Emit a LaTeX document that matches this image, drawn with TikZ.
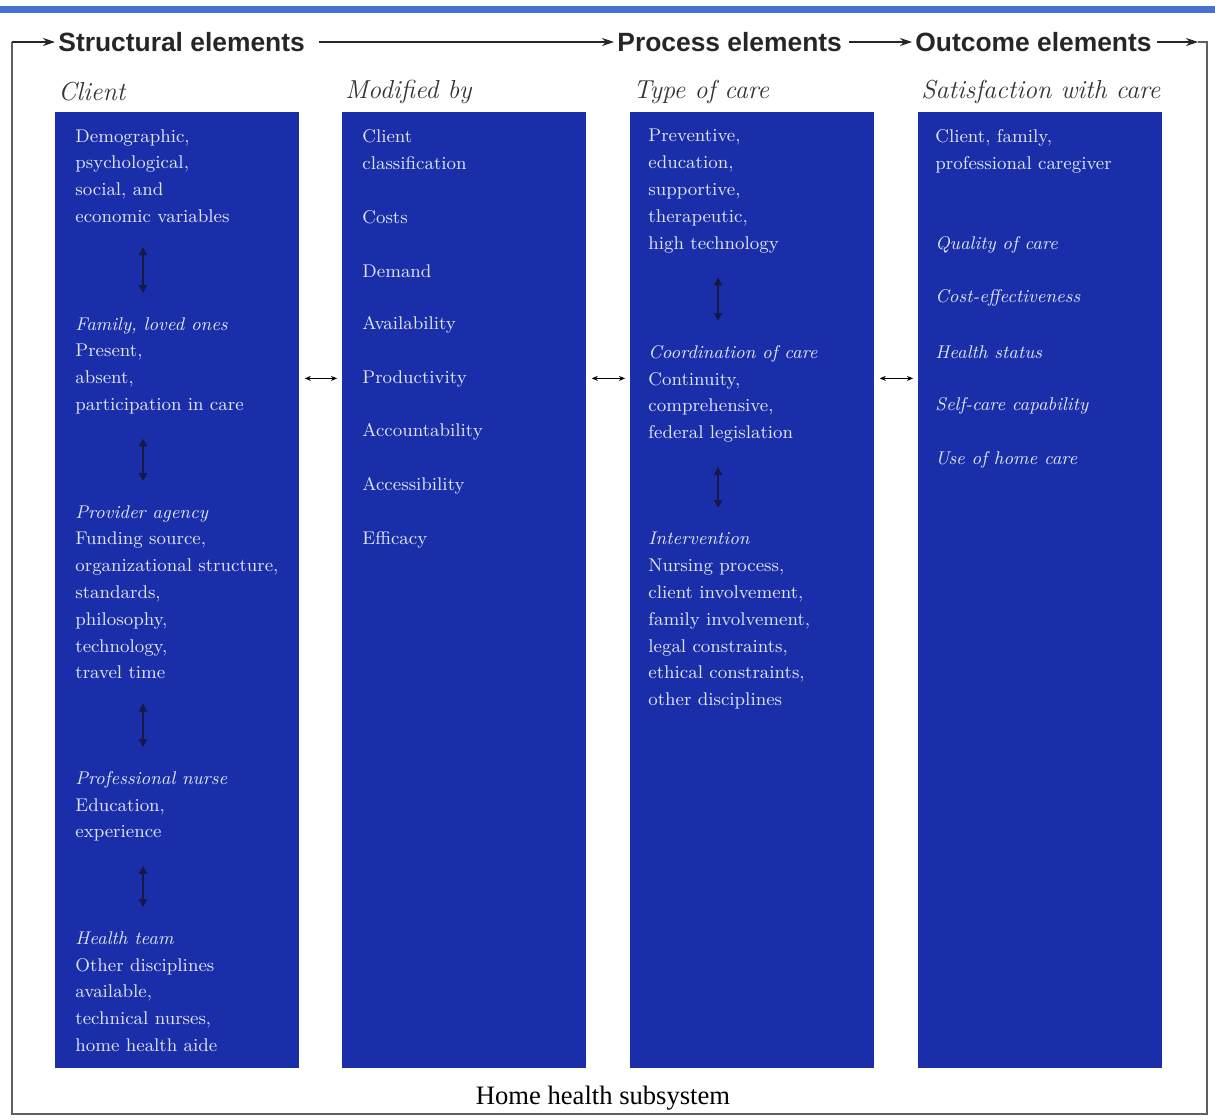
\documentclass[tikz,border=0pt]{standalone}
\usepackage{fontspec}
\newfontfamily\headfont{Liberation Sans}
\newfontfamily\basefont{Liberation Serif}
\usetikzlibrary{positioning, arrows.meta}

\definecolor{boxblue}{RGB}{26,46,170}
\definecolor{boxtext}{RGB}{224,227,240}
\definecolor{linkdark}{RGB}{22,24,70}
\definecolor{rulecol}{RGB}{74,112,205}
\definecolor{framegray}{RGB}{95,95,95}

\tikzset{
  colbox/.style={fill=boxblue, draw=none, anchor=north west, inner sep=0pt, minimum width=122pt, minimum height=478pt},
  coltitle/.style={anchor=west, inner sep=0pt, text=black!80, font=\fontsize{13}{15}\selectfont\itshape},
  headtxt/.style={anchor=west, inner sep=0pt, text=black!85, font=\headfont\bfseries\fontsize{13.2}{15}\selectfont},
  blocktxt/.style={anchor=north west, inner sep=0pt, align=left, text=boxtext, font=\fontsize{9.2}{13.4}\selectfont},
  itemtxt/.style={anchor=west, inner sep=0pt, text=boxtext, font=\fontsize{9.2}{13.4}\selectfont},
  flow/.style={-{Stealth[length=6pt,width=4pt]}, line width=0.6pt, black!85, shorten >=1.5pt},
  hlink/.style={{Stealth[length=3pt,width=2.5pt]}-{Stealth[length=3pt,width=2.5pt]}, line width=0.5pt, black, shorten <=2.5pt, shorten >=2.5pt},
  vlink/.style={{Triangle[length=4pt,width=4pt]}-{Triangle[length=4pt,width=4pt]}, line width=1pt, linkdark, shorten <=12pt, shorten >=12pt},
}

\begin{document}
\begin{tikzpicture}[x=0.5pt, y=-0.5pt]
    \useasboundingbox (0,0) rectangle (1215,1119);

    % Draw top rule
    \draw[rulecol, line width=3.5pt] (0,9) -- (1215,9);

    % Draw columns and their titles
    \foreach \name/\xx/\title in {client/55/Client, modby/342/Modified by, care/630/Type of care, satis/918/Satisfaction with care} {
      \node[colbox] (\name) at (\xx,112) {};
      \node[coltitle] (\name-t) at (\xx+3,92) {\title};
      \coordinate (\name-ax) at (\xx+88,112);
    }

    % Client column
    \node[blocktxt] (demo) at (75,129) {Demographic,\\psychological,\\social, and\\economic variables};
    \node[blocktxt] (family) at (75,317) {{\itshape Family, loved ones}\\Present,\\absent,\\participation in care};
    \node[blocktxt] (agency) at (75,505) {{\itshape Provider agency}\\Funding source,\\organizational structure,\\standards,\\philosophy,\\technology,\\travel time};
    \node[blocktxt] (nurse) at (75,771) {{\itshape Professional nurse}\\Education,\\experience};
    \node[blocktxt] (team) at (75,931) {{\itshape Health team}\\Other disciplines\\available,\\technical nurses,\\home health aide};

    \draw[vlink] (demo.south -| client-ax) -- (family.north -| client-ax);
    \draw[vlink] (family.south -| client-ax) -- (agency.north -| client-ax);
    \draw[vlink] (agency.south -| client-ax) -- (nurse.north -| client-ax);
    \draw[vlink] (nurse.south -| client-ax) -- (team.north -| client-ax);

    % Modified by column
    \node[blocktxt] (mclass) at (362,129) {Client\\classification};
    \foreach \t/\yy in {Costs/217, Demand/271, Availability/325, Productivity/379, Accountability/432, Accessibility/486, Efficacy/540} {
      \node[itemtxt] (mod\yy) at (362,\yy) {\t};
    }

    % Type of care column
    \node[blocktxt] (types) at (648,129) {Preventive,\\education,\\supportive,\\therapeutic,\\high technology};
    \node[blocktxt] (coord) at (648,345) {{\itshape Coordination of care}\\Continuity,\\comprehensive,\\federal legislation};
    \node[blocktxt] (interv) at (648,532) {{\itshape Intervention}\\Nursing process,\\client involvement,\\family involvement,\\legal constraints,\\ethical constraints,\\other disciplines};

    \draw[vlink] (types.south -| care-ax) -- (coord.north -| care-ax);
    \draw[vlink] (coord.south -| care-ax) -- (interv.north -| care-ax);

    % Satisfaction column
    \node[blocktxt] (sclient) at (935,129) {Client, family,\\professional caregiver};
    \foreach \t/\yy in {Quality of care/245, Cost-effectiveness/298, Health status/352, Self-care capability/406, Use of home care/460} {
      \node[itemtxt, font=\fontsize{9.2}{13.4}\selectfont\itshape] (sat\yy) at (935,\yy) {\t};
    }

    % Links between columns
    \draw[hlink] ([yshift=106pt]client.east) -- ([yshift=106pt]modby.west);
    \draw[hlink] ([yshift=106pt]modby.east) -- ([yshift=106pt]care.west);
    \draw[hlink] ([yshift=106pt]care.east) -- ([yshift=106pt]satis.west);

    % Headings and frame
    \node[headtxt] (struct) at (58,42) {Structural elements};
    \node[headtxt] (proc) at (617,42) {Process elements};
    \node[headtxt] (outc) at (915,42) {Outcome elements};

    \coordinate (fr-tl) at (12,42);
    \coordinate (fr-bl) at (12,1114);
    \coordinate (fr-br) at (1207,1114);
    \coordinate (fr-tr) at (1207,42);
    \coordinate (fr-in) at (1198,42);

    \draw[framegray, line width=0.6pt] (fr-in) -- (fr-tr) -- (fr-br) -- (fr-bl) -- (fr-tl);
    \draw[flow] (fr-tl) -- (struct.west);
    \draw[flow, shorten <=7pt] (struct.east) -- (proc.west);
    \draw[flow, shorten <=3.5pt] (proc.east) -- (outc.west);
    \draw[flow, shorten <=2.5pt, shorten >=0pt] (outc.east) -- (fr-in);

    \node[font=\basefont\fontsize{13.3}{15}\selectfont] (subsys) at (603,1098) {Home health subsystem};

  \end{tikzpicture}
\end{document}
